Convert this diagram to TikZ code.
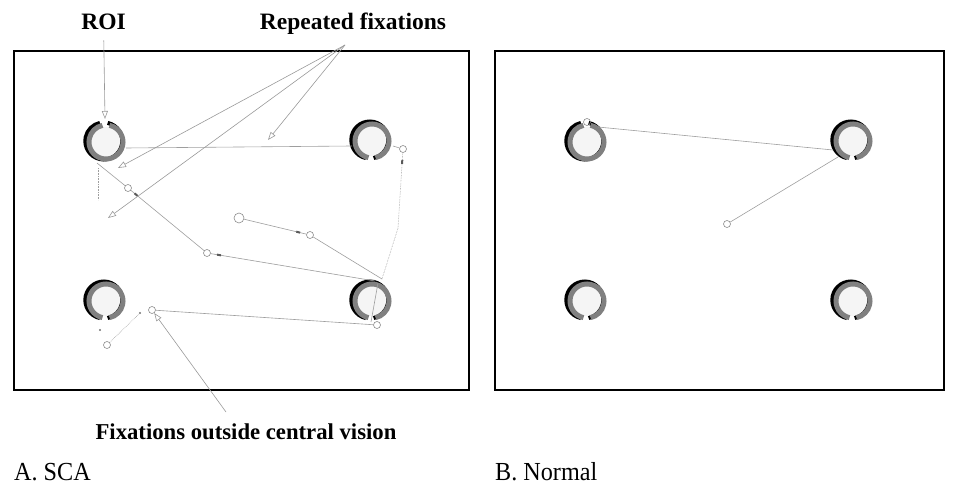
\documentclass[tikz,border=0pt]{standalone}
\usepackage{fontspec}
\setmainfont{Liberation Serif}
\usetikzlibrary{arrows.meta,calc,decorations.markings}

\tikzset{
  panel/.style={draw=black, line width=2.2pt},
  roifill/.style={fill=black!4},
  roiring/.style={draw=black!50, line width=5pt},
  roishade/.style={draw=black, line width=4pt},
  scan/.style={draw=black!38, line width=0.6pt},
  scandot/.style={draw=black!38, line width=0.6pt, densely dotted},
  fix/.style={circle, draw=black!45, line width=0.6pt, inner sep=0pt, minimum size=7pt},
  fixbig/.style={fix, minimum size=10pt},
  fixdot/.style={circle, fill=black!55, inner sep=0pt, minimum size=2.4pt},
  pointer/.style={draw=black!40, line width=0.6pt, -{Triangle[open, length=8pt, width=6pt]}},
  lbl/.style={font=\bfseries\fontsize{23.5}{27}\selectfont, inner sep=0pt, anchor=base},
  lblsmall/.style={lbl, font=\bfseries\fontsize{22.7}{26}\selectfont},
  captext/.style={font=\fontsize{26}{29}\selectfont, inner sep=0pt, anchor=base west},
  dirmark/.style={postaction={decorate}, decoration={markings,
      mark=at position #1 with {\fill[black!65] (-2pt,-1pt) rectangle (2pt,1pt);}}},
}

% A C-shaped region of interest: #1 centre, #2 direction of its opening
% (the y axis points down, so 90 opens downwards and 270 upwards)
\newcommand\roiat[2]{%
  \fill[roifill] (#1) circle[radius=15pt];
  \draw[roishade] ($(#1)+(-2.2,-1)$) ++(#2+12:18.5)
      arc[start angle=#2+12, end angle=#2+348, radius=18.5];
  \draw[roiring] (#1) ++(#2+12:17)
      arc[start angle=#2+12, end angle=#2+348, radius=17];
}

\begin{document}
\begin{tikzpicture}[x=1pt, y=-1pt]
  \useasboundingbox (0,0) rectangle (955,486);

  % the two screens
  \draw[panel] (14,51) rectangle (469,390);
  \draw[panel] (495,51) rectangle (944,390);

  % regions of interest
  \coordinate (ra1) at (106,142);
  \coordinate (ra2) at (372,141);
  \coordinate (ra3) at (106,301);
  \coordinate (ra4) at (372,301);
  \coordinate (rb1) at (587,142);
  \coordinate (rb2) at (853,141);
  \coordinate (rb3) at (587,301);
  \coordinate (rb4) at (853,301);
  \roiat{ra1}{270}
  \roiat{ra2}{90}
  \roiat{ra3}{90}
  \roiat{ra4}{90}
  \roiat{rb1}{270}
  \roiat{rb2}{90}
  \roiat{rb3}{90}
  \roiat{rb4}{90}

  % scanpath, panel A
  \node[fix]    (fa1) at (403,149) {};
  \node[fix]    (fa2) at (128,188) {};
  \node[fix]    (fa3) at (207,253) {};
  \node[fixbig] (fa4) at (239,218) {};
  \node[fix]    (fa5) at (310,235) {};
  \node[fix]    (fa6) at (377,325) {};
  \node[fix]    (fa7) at (152,310) {};
  \node[fix]    (fa8) at (107,345) {};
  \node[fixdot] (da1) at (100,330) {};
  \node[fixdot] (da2) at (140,313) {};

  \coordinate (pa1) at (126,148);
  \coordinate (pa2) at (352,146);
  \coordinate (pa3) at (393,146);
  \coordinate (pa4) at (398,228);
  \coordinate (pa5) at (382,279);
  \coordinate (pa6) at (97,163);
  \coordinate (pa7) at (98,168);
  \coordinate (pa8) at (98,200);
  \coordinate (pa9) at (375,281);
  \coordinate (pa10) at (378,283);
  \coordinate (pa11) at (371,322);

  \draw[scan] (pa1) -- (pa2);
  \draw[scan] (pa3) -- (fa1);
  \draw[scandot, dirmark=0.12] (fa1) -- (pa4);
  \draw[scandot] (pa4) -- (pa5);
  \draw[scan, dirmark=0.87] (fa4) -- (fa5);
  \draw[scan] (fa5) -- (pa5);
  \draw[scan, dirmark=0.05] (fa3) -- (pa9);
  \draw[scan] (pa6) -- (fa2);
  \draw[scan, dirmark=0.07] (fa2) -- (fa3);
  \draw[scandot] (pa7) -- (pa8);
  \draw[scan] (fa7) -- (fa6);
  \draw[scandot] (da2) -- (fa8);
  \draw[scan] (pa10) -- (pa11);

  % scanpath, panel B
  \node[fix] (fb1) at (587,122) {};
  \node[fix] (fb2) at (727,224) {};
  \coordinate (pb1) at (598,127);
  \coordinate (pb2) at (833,150);
  \coordinate (pb3) at (838,157);
  \draw[scan] (pb1) -- (pb2);
  \draw[scan] (pb3) -- (fb2);

  % annotations
  \node[lbl] (roi) at (103.5,30) {ROI};
  \node[lbl] (rep) at (353,30) {Repeated fixations};
  \node[lblsmall] (out) at (246,439) {Fixations outside central vision};

  \coordinate (roitip) at (105,119);
  \draw[pointer, shorten <=10pt] (roi) -- (roitip);

  \coordinate (rep0) at (345,45);
  \coordinate (rt1) at (118,168);
  \coordinate (rt2) at (108,218);
  \coordinate (rt3) at (268,140);
  \draw[pointer] (rep0) -- (rt1);
  \draw[pointer] (rep0) -- (rt2);
  \draw[pointer] (rep0) -- (rt3);

  \coordinate (out0) at (226,412);
  \draw[pointer] (out0) -- (fa7);

  % panel captions
  \node[captext] (capa) at (14,480) {\scalebox{0.93}[1]{A. SCA}};
  \node[captext] (capb) at (495,480) {\scalebox{0.93}[1]{B. Normal}};
\end{tikzpicture}
\end{document}
